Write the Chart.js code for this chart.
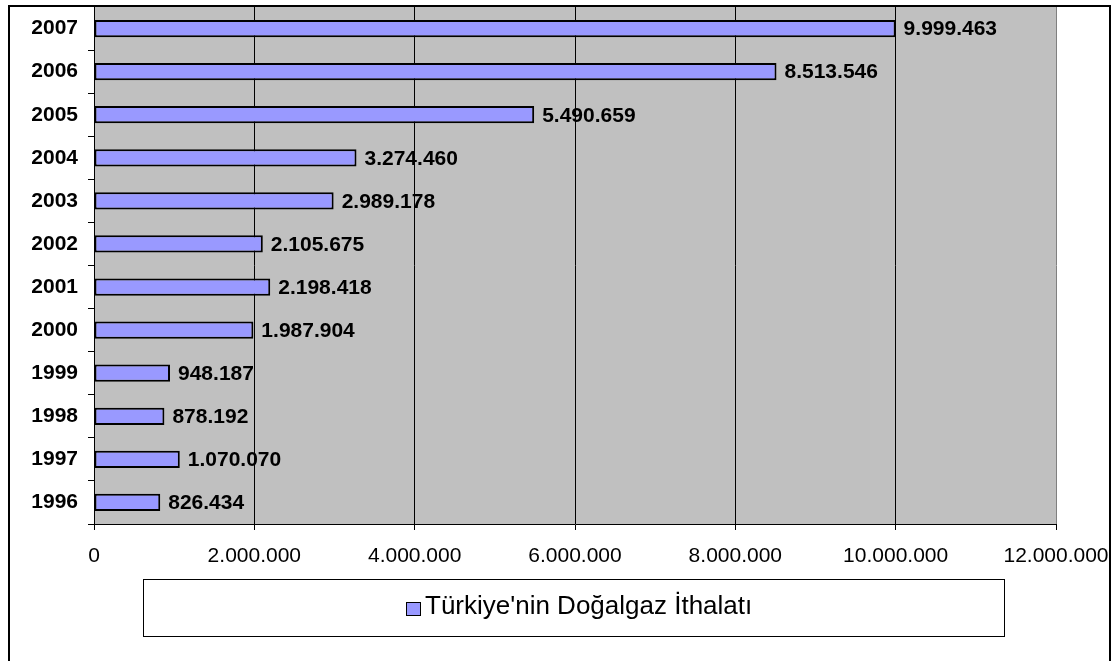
<!DOCTYPE html>
<html lang="tr">
<head>
<meta charset="utf-8">
<title>Türkiye'nin Doğalgaz İthalatı</title>
<script src="https://cdn.jsdelivr.net/npm/chart.js@4/dist/chart.umd.min.js"></script>
<style>
  html, body { margin: 0; padding: 0; background: #ffffff; }
  #wrap { width: 1115px; height: 661px; position: relative; }
</style>
</head>
<body>
<div id="wrap"><canvas id="c" width="1115" height="661"></canvas></div>
<script>
// Yıllar ve ithalat miktarları
const years = ['1996', '1997', '1998', '1999', '2000', '2001', '2002', '2003', '2004', '2005', '2006', '2007'];
const imports = [826434, 1070070, 878192, 948187, 1987904, 2198418, 2105675, 2989178, 3274460, 5490659, 8513546, 9999463];
const seriesName = "Türkiye'nin Doğalgaz İthalatı";
const xMin = 0;
const xMax = 12000000;
const xStep = 2000000;

const FONT = "Arial, 'Liberation Sans', sans-serif";
const BAR_FILL = '#9999FF';

function fmt(n) {
  return String(Math.round(n)).replace(/\B(?=(\d{3})+(?!\d))/g, '.');
}

// Gri çizim alanı ve dış çerçeve
const framePlugin = {
  id: 'frame',
  beforeDraw(chart) {
    const { ctx, chartArea: a } = chart;
    ctx.save();
    ctx.fillStyle = '#C0C0C0';
    ctx.fillRect(a.left, a.top, a.right - a.left, a.bottom - a.top);
    ctx.restore();
  },
  afterDraw(chart) {
    const { ctx } = chart;
    ctx.save();
    ctx.strokeStyle = '#000000';
    ctx.lineWidth = 2;
    ctx.strokeRect(9, 6, 1101, 700);
    ctx.restore();
  }
};

// Çubukların sağındaki değer etiketleri
const valueLabels = {
  id: 'valueLabels',
  afterDatasetsDraw(chart) {
    const { ctx } = chart;
    const meta = chart.getDatasetMeta(0);
    ctx.save();
    ctx.font = 'bold 21px ' + FONT;
    ctx.fillStyle = '#000000';
    ctx.textAlign = 'left';
    ctx.textBaseline = 'middle';
    meta.data.forEach((bar, i) => {
      ctx.fillText(fmt(chart.data.datasets[0].data[i]), bar.x + 8, bar.y + 1);
    });
    ctx.restore();
  }
};

// Çerçeveli açıklama kutusu
const legendBox = {
  id: 'legendBox',
  afterDraw(chart) {
    const { ctx } = chart;
    ctx.save();
    ctx.fillStyle = '#ffffff';
    ctx.fillRect(143, 579, 861, 57);
    ctx.strokeStyle = '#000000';
    ctx.lineWidth = 1;
    ctx.strokeRect(143.5, 579.5, 861, 57);
    ctx.fillStyle = BAR_FILL;
    ctx.fillRect(406, 602, 14, 13);
    ctx.strokeStyle = '#000000';
    ctx.strokeRect(406.5, 602.5, 14, 13);
    ctx.fillStyle = '#000000';
    ctx.font = '26px ' + FONT;
    ctx.textAlign = 'left';
    ctx.textBaseline = 'alphabetic';
    ctx.fillText(chart.data.datasets[0].label, 425, 614);
    ctx.restore();
  }
};

new Chart(document.getElementById('c'), {
  type: 'bar',
  data: {
    labels: years,
    datasets: [{
      label: seriesName,
      data: imports,
      backgroundColor: BAR_FILL,
      borderColor: '#000000',
      borderWidth: 2,
      borderSkipped: false,
      categoryPercentage: 1.0,
      barPercentage: 0.4
    }]
  },
  options: {
    indexAxis: 'y',
    responsive: false,
    animation: false,
    devicePixelRatio: 1,
    layout: { padding: { top: 7, right: 59, left: 0, bottom: 0 } },
    plugins: {
      legend: { display: false },
      tooltip: { enabled: false },
      title: { display: false }
    },
    scales: {
      x: {
        type: 'linear',
        min: xMin,
        max: xMax,
        afterFit(scale) {
          scale.height = 137;
          scale.paddingLeft = 0;
          scale.paddingRight = 0;
        },
        ticks: {
          stepSize: xStep,
          color: '#000000',
          font: { family: FONT, size: 21 },
          padding: 14,
          maxRotation: 0,
          callback: (v) => fmt(v)
        },
        grid: {
          color: (c) => (c.tick && c.tick.value === xMax ? '#808080' : '#000000'),
          lineWidth: 1,
          drawTicks: true,
          tickLength: 6,
          tickColor: '#000000'
        },
        border: { color: '#000000', width: 1 }
      },
      y: {
        type: 'category',
        reverse: true,
        offset: true,
        afterFit(scale) {
          scale.width = 94;
          scale.paddingTop = 0;
          scale.paddingBottom = 0;
        },
        ticks: {
          color: '#000000',
          font: { family: FONT, size: 21, weight: 'bold' },
          padding: 10
        },
        grid: {
          offset: true,
          drawOnChartArea: false,
          drawTicks: true,
          tickLength: 6,
          color: '#000000'
        },
        border: { color: '#000000', width: 1 }
      }
    }
  },
  plugins: [framePlugin, valueLabels, legendBox]
});
</script>
</body>
</html>
